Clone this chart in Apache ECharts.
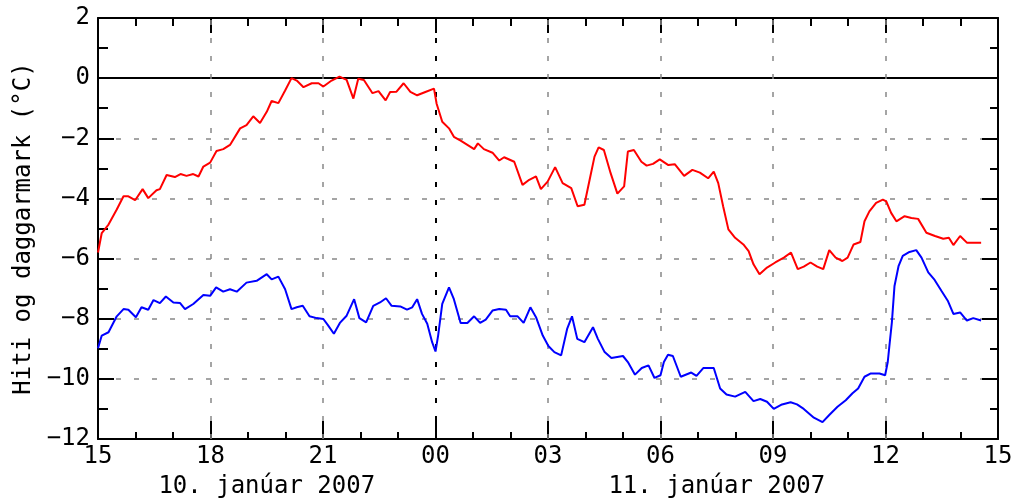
<!DOCTYPE html>
<html>
<head>
<meta charset="utf-8">
<script src="https://cdn.jsdelivr.net/npm/echarts@6/dist/echarts.min.js"></script>
<style>
html,body{margin:0;padding:0;background:#fff;}
#c{width:1014px;height:502px;}
</style>
</head>
<body>
<div id="c"></div>
<script>
// hours since 10 Jan 2007 15:00
const xTickLabels = ['15','18','21','00','03','06','09','12','15'];
const dateLabels = ['10. janúar 2007', '11. janúar 2007'];
const datePositions = [4.5, 16.5];
const gridHours = [3, 6, 12, 15, 18, 21];
const midnightHour = 9;

const tempHours = [0,0.1,0.28,0.5,0.68,0.81,0.99,1.19,1.34,1.56,1.65,1.83,2.05,2.2,2.36,2.54,2.68,2.81,2.99,3.16,3.34,3.52,3.79,3.96,4.14,4.32,4.5,4.63,4.81,4.99,5.16,5.3,5.48,5.7,5.88,6.01,6.23,6.44,6.63,6.81,6.94,7.09,7.32,7.48,7.67,7.79,7.96,8.15,8.33,8.51,8.73,8.96,9.03,9.18,9.36,9.49,9.67,9.85,10.03,10.13,10.29,10.52,10.7,10.83,11.1,11.32,11.5,11.68,11.81,11.99,12.19,12.39,12.62,12.79,12.97,13.11,13.24,13.35,13.49,13.67,13.85,14.03,14.13,14.29,14.49,14.63,14.8,14.98,15.21,15.38,15.63,15.85,16.05,16.27,16.42,16.54,16.67,16.81,16.99,17.21,17.35,17.48,17.64,17.84,18.06,18.29,18.48,18.66,18.82,19.0,19.18,19.34,19.5,19.67,19.85,19.99,20.15,20.33,20.44,20.57,20.75,20.93,21.02,21.15,21.29,21.51,21.69,21.87,22.09,22.32,22.54,22.69,22.81,22.99,23.17,23.34,23.55];
const tempValues = [-5.8,-5.15,-4.87,-4.37,-3.93,-3.93,-4.06,-3.69,-3.99,-3.73,-3.69,-3.22,-3.29,-3.19,-3.25,-3.19,-3.27,-2.94,-2.81,-2.42,-2.36,-2.22,-1.67,-1.56,-1.27,-1.49,-1.12,-0.76,-0.83,-0.41,0.0,-0.08,-0.3,-0.17,-0.17,-0.28,-0.08,0.05,-0.06,-0.68,-0.02,-0.06,-0.5,-0.43,-0.74,-0.46,-0.45,-0.17,-0.46,-0.57,-0.46,-0.35,-0.85,-1.45,-1.67,-1.95,-2.08,-2.22,-2.36,-2.17,-2.36,-2.48,-2.74,-2.63,-2.78,-3.55,-3.38,-3.27,-3.69,-3.44,-2.96,-3.49,-3.66,-4.26,-4.21,-3.38,-2.61,-2.3,-2.39,-3.16,-3.84,-3.6,-2.44,-2.39,-2.78,-2.91,-2.85,-2.7,-2.89,-2.86,-3.25,-3.05,-3.14,-3.33,-3.11,-3.49,-4.26,-5.03,-5.31,-5.53,-5.75,-6.19,-6.52,-6.3,-6.13,-5.97,-5.8,-6.35,-6.27,-6.13,-6.27,-6.35,-5.72,-5.97,-6.08,-5.97,-5.53,-5.45,-4.76,-4.43,-4.15,-4.04,-4.1,-4.48,-4.76,-4.59,-4.65,-4.68,-5.14,-5.25,-5.34,-5.31,-5.55,-5.25,-5.47,-5.47,-5.47];

const dewHours = [0,0.1,0.28,0.5,0.68,0.81,1.01,1.16,1.34,1.48,1.65,1.81,2.01,2.19,2.32,2.54,2.81,2.99,3.15,3.34,3.52,3.7,3.96,4.23,4.5,4.63,4.81,4.99,5.16,5.3,5.46,5.64,5.83,6.01,6.14,6.29,6.45,6.63,6.83,6.97,7.15,7.34,7.52,7.68,7.83,8.06,8.24,8.38,8.51,8.64,8.78,8.91,9.0,9.07,9.18,9.36,9.49,9.67,9.85,10.03,10.19,10.34,10.52,10.7,10.88,10.99,11.19,11.35,11.53,11.68,11.86,12.01,12.17,12.35,12.51,12.64,12.78,12.97,13.2,13.33,13.51,13.69,14.0,14.13,14.32,14.5,14.68,14.84,15.0,15.09,15.2,15.33,15.54,15.82,15.96,16.14,16.42,16.59,16.76,16.99,17.26,17.48,17.66,17.84,18.02,18.24,18.47,18.64,18.82,19.09,19.32,19.5,19.72,19.94,20.12,20.27,20.44,20.61,20.84,20.99,21.06,21.11,21.17,21.24,21.35,21.46,21.64,21.82,21.96,22.14,22.31,22.49,22.66,22.81,22.99,23.17,23.34,23.55];
const dewValues = [-8.98,-8.56,-8.45,-7.92,-7.68,-7.7,-7.95,-7.62,-7.7,-7.38,-7.48,-7.26,-7.46,-7.48,-7.68,-7.51,-7.21,-7.24,-6.96,-7.1,-7.02,-7.1,-6.8,-6.74,-6.52,-6.69,-6.6,-7.02,-7.68,-7.62,-7.57,-7.92,-7.98,-8.01,-8.23,-8.5,-8.14,-7.9,-7.35,-7.98,-8.12,-7.57,-7.46,-7.32,-7.57,-7.59,-7.7,-7.62,-7.35,-7.84,-8.17,-8.78,-9.09,-8.56,-7.51,-6.96,-7.35,-8.14,-8.14,-7.92,-8.14,-8.03,-7.73,-7.68,-7.7,-7.92,-7.92,-8.14,-7.62,-7.95,-8.56,-8.91,-9.11,-9.22,-8.34,-7.92,-8.67,-8.78,-8.28,-8.67,-9.11,-9.31,-9.24,-9.44,-9.86,-9.64,-9.55,-9.97,-9.88,-9.44,-9.2,-9.24,-9.93,-9.79,-9.9,-9.64,-9.64,-10.32,-10.52,-10.59,-10.43,-10.74,-10.67,-10.76,-11.0,-10.85,-10.78,-10.85,-11.0,-11.29,-11.44,-11.2,-10.93,-10.71,-10.48,-10.32,-9.93,-9.82,-9.82,-9.88,-9.44,-8.83,-8.12,-6.91,-6.24,-5.91,-5.78,-5.72,-5.97,-6.46,-6.71,-7.07,-7.4,-7.84,-7.79,-8.06,-7.98,-8.06];

const yName = 'Hiti og daggarmark (°C)';
const FONT = 'DejaVu Sans Mono';
const FS = 24;

const pairs = (xs, ys) => xs.map((x, i) => [x, ys[i]]);

const chart = echarts.init(document.getElementById('c'), null, {renderer: 'canvas'});

const tickCommon = (len, minorLen, n) => ({
  axisTick: {show: true, inside: true, length: len, lineStyle: {color: '#000', width: 2}},
  minorTick: {show: true, splitNumber: n, length: minorLen, lineStyle: {color: '#000', width: 2}},
  axisLine: {show: true, onZero: false, lineStyle: {color: '#000', width: 2}}
});

const gridDash = [5, 13];
const markLines = [
  {yAxis: 0, lineStyle: {color: '#000', type: 'solid', width: 2}},
  {xAxis: midnightHour, lineStyle: {color: '#000', type: gridDash, width: 2}}
].concat(gridHours.map(h => ({xAxis: h, lineStyle: {color: '#888', type: gridDash, width: 1.5}})));

chart.setOption({
  animation: false,
  backgroundColor: '#fff',
  grid: {left: 98, right: 16, top: 18, bottom: 63, containLabel: false, outerBoundsMode: 'none'},
  xAxis: [
    Object.assign({
      type: 'value', min: 0, max: 24, interval: 3, position: 'bottom',
      axisLabel: {
        color: '#000', fontFamily: FONT, fontSize: FS, margin: 6,
        formatter: v => xTickLabels[Math.round(v / 3)]
      },
      splitLine: {show: false}
    }, tickCommon(18, 7, 3)),
    Object.assign({
      type: 'value', min: 0, max: 24, interval: 3, position: 'top',
      axisLabel: {show: false}, splitLine: {show: false}
    }, tickCommon(15, 8, 3)),
    {
      type: 'value', min: 0, max: 24, interval: 1.5, position: 'bottom', offset: 30,
      axisLine: {show: false}, axisTick: {show: false}, splitLine: {show: false},
      axisLabel: {
        color: '#000', fontFamily: FONT, fontSize: FS, margin: 6,
        formatter: v => {
          const i = datePositions.indexOf(v);
          return i >= 0 ? dateLabels[i] : '';
        }
      }
    }
  ],
  yAxis: [
    Object.assign({
      type: 'value', min: -12, max: 2, interval: 2, position: 'left',
      name: yName, nameLocation: 'middle', nameGap: 60,
      nameTextStyle: {color: '#000', fontFamily: FONT, fontSize: FS},
      axisLabel: {
        color: '#000', fontFamily: FONT, fontSize: FS, margin: 8,
        formatter: v => String(v).replace('-', '\u2212')
      },
      splitLine: {show: true, lineStyle: {color: '#888', type: gridDash, width: 1.5}}
    }, tickCommon(16, 10, 2)),
    Object.assign({
      type: 'value', min: -12, max: 2, interval: 2, position: 'right',
      axisLabel: {show: false}, splitLine: {show: false}
    }, tickCommon(16, 8, 2))
  ],
  series: [
    {
      name: 'Hiti', type: 'line', xAxisIndex: 0, yAxisIndex: 0,
      data: pairs(tempHours, tempValues), showSymbol: false, symbol: 'none',
      lineStyle: {color: '#ff0000', width: 2}, z: 3,
      markLine: {silent: true, symbol: 'none', label: {show: false}, data: markLines, z: 2}
    },
    {
      name: 'Daggarmark', type: 'line', xAxisIndex: 0, yAxisIndex: 0,
      data: pairs(dewHours, dewValues), showSymbol: false, symbol: 'none',
      lineStyle: {color: '#0000ff', width: 2}, z: 3
    }
  ]
});
</script>
</body>
</html>
